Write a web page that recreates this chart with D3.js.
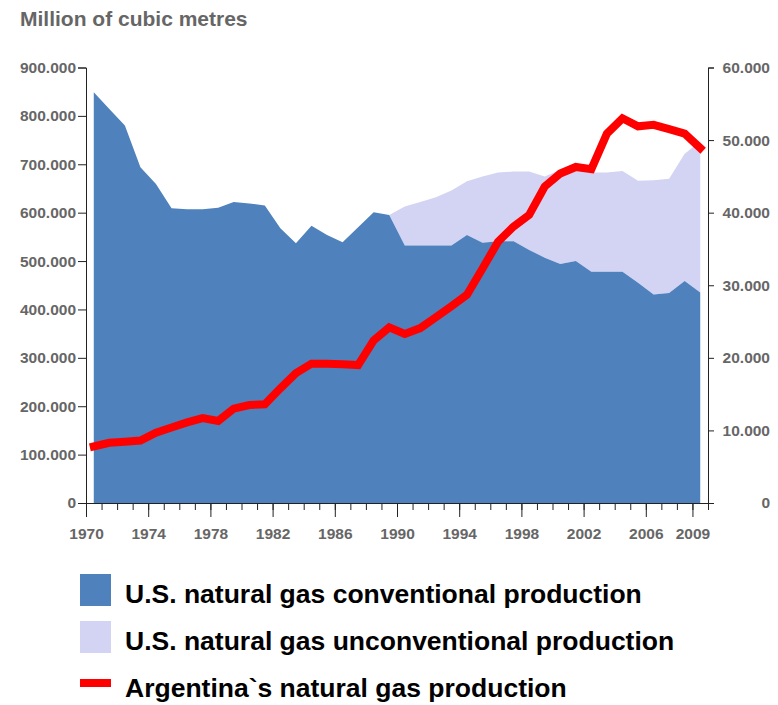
<!DOCTYPE html>
<html>
<head>
<meta charset="utf-8">
<script src="https://cdn.jsdelivr.net/npm/d3@7"></script>
<style>
  body { margin: 0; background: #fff; }
  svg { font-family: "Liberation Sans", Arial, sans-serif; font-weight: bold; }
  .axis path, .axis line { stroke: #222; }
  .axis text { fill: #666; font-size: 15.5px; font-weight: bold; font-family: "Liberation Sans", Arial, sans-serif; }
</style>
</head>
<body>
<div id="chart"></div>
<script>
// data (million m3), one value per year
const years = [1970, 1971, 1972, 1973, 1974, 1975, 1976, 1977, 1978, 1979,
  1980, 1981, 1982, 1983, 1984, 1985, 1986, 1987, 1988, 1989,
  1990, 1991, 1992, 1993, 1994, 1995, 1996, 1997, 1998, 1999,
  2000, 2001, 2002, 2003, 2004, 2005, 2006, 2007, 2008, 2009];

const usConventional = [849000, 814000, 780000, 694000, 659000, 609000, 607000, 607000, 610000, 622000,
  619000, 615000, 568000, 537000, 573000, 554000, 539000, 570000, 601000, 595000,
  532000, 532000, 532000, 532000, 554000, 538000, 541000, 541000, 523000, 507000,
  494000, 500000, 478000, 478000, 478000, 455000, 431000, 434000, 459000, 435000];

const usUnconventional = [0, 0, 0, 0, 0, 0, 0, 0, 0, 0,
  0, 0, 0, 0, 0, 0, 0, 0, 0, 0,
  81000, 90000, 100000, 114000, 111000, 137000, 142000, 144000, 162000, 168000,
  194000, 198000, 205000, 205000, 208000, 211000, 236000, 236000, 263000, 312000];

const argentina = [7800, 8300, 8450, 8600, 9700, 10400, 11100, 11700, 11300, 13000,
  13500, 13600, 15800, 17900, 19200, 19200, 19100, 19000, 22400, 24200,
  23300, 24100, 25600, 27100, 28700, 32300, 36000, 38100, 39700, 43600,
  45400, 46300, 46000, 50900, 53000, 51900, 52100, 51500, 50900, 48900];

const leftTicks = [0, 100000, 200000, 300000, 400000, 500000, 600000, 700000, 800000, 900000];
const rightTicks = [0, 10000, 20000, 30000, 40000, 50000, 60000];
const labelYears = [1970, 1974, 1978, 1982, 1986, 1990, 1994, 1998, 2002, 2006, 2009];
const allTickYears = years.concat([2010]);

const seriesNames = [
  "U.S. natural gas conventional production",
  "U.S. natural gas unconventional production",
  "Argentina`s natural gas production"
];
const colors = ["#4f81bd", "#d3d3f3", "#ff0000"];

const rows = years.map((year, i) => ({
  year: year,
  conv: usConventional[i],
  unconv: usUnconventional[i],
  arg: argentina[i]
}));

const width = 778, height = 705;
const plot = { left: 86, right: 708, top: 67.5, bottom: 503 };

const svg = d3.select("#chart").append("svg")
  .attr("width", width)
  .attr("height", height);

const x = d3.scaleLinear().domain([1970, 2010]).range([plot.left, plot.right]);
const yLeft = d3.scaleLinear().domain([0, 900000]).range([plot.bottom, plot.top]);
const yRight = d3.scaleLinear().domain([0, 60000]).range([plot.bottom, plot.top]);

// values are placed in the middle of each year
const xMid = d => x(d.year + 0.5);

const fmt = d3.formatLocale({ decimal: ",", thousands: ".", grouping: [3], currency: ["", ""] }).format(",");

svg.append("text")
  .attr("x", 20)
  .attr("y", 26)
  .attr("fill", "#666")
  .style("font-size", "21px")
  .text("Million of cubic metres");

// areas
svg.append("path")
  .datum(rows)
  .attr("fill", colors[1])
  .attr("d", d3.area()
    .x(xMid)
    .y0(d => yLeft(d.conv))
    .y1(d => yLeft(d.conv + d.unconv)));

svg.append("path")
  .datum(rows)
  .attr("fill", colors[0])
  .attr("d", d3.area()
    .x(xMid)
    .y0(yLeft(0))
    .y1(d => yLeft(d.conv)));

// Argentina line (right axis)
svg.append("path")
  .datum(rows)
  .attr("fill", "none")
  .attr("stroke", colors[2])
  .attr("stroke-width", 8)
  .attr("stroke-linecap", "square")
  .attr("d", d3.line()
    .x(xMid)
    .y(d => yRight(d.arg)));

// axes
svg.append("g")
  .attr("class", "axis")
  .attr("transform", `translate(${plot.left},0)`)
  .call(d3.axisLeft(yLeft).tickValues(leftTicks).tickSize(8).tickSizeOuter(8).tickPadding(2).tickFormat(fmt));

const right = svg.append("g")
  .attr("class", "axis")
  .attr("transform", `translate(${plot.right},0)`)
  .call(d3.axisRight(yRight).tickValues(rightTicks).tickSize(6).tickSizeOuter(6).tickFormat(fmt));
right.selectAll(".tick text")
  .attr("x", 62)
  .attr("text-anchor", "end");

svg.append("g")
  .attr("class", "axis")
  .attr("transform", `translate(0,${plot.bottom})`)
  .call(d3.axisBottom(x).tickValues(allTickYears).tickSize(7).tickSizeOuter(0).tickFormat(""));

svg.append("g")
  .attr("class", "axis")
  .attr("transform", `translate(0,${plot.bottom})`)
  .call(d3.axisBottom(x).tickValues(labelYears).tickSize(14).tickSizeOuter(0).tickPadding(11).tickFormat(d3.format("d")))
  .call(g => g.select(".domain").remove());

// legend
const legend = svg.append("g").attr("transform", "translate(80,574)");
const item = legend.selectAll("g")
  .data(seriesNames)
  .enter().append("g")
  .attr("transform", (d, i) => `translate(0,${i * 47})`);

item.filter((d, i) => i < 2).append("rect")
  .attr("width", 31)
  .attr("height", 32)
  .attr("fill", (d, i) => colors[i]);

item.filter((d, i) => i === 2).append("rect")
  .attr("y", 11)
  .attr("width", 31)
  .attr("height", 8)
  .attr("fill", colors[2]);

item.append("text")
  .attr("x", 45)
  .attr("y", 20)
  .attr("dy", "0.35em")
  .attr("fill", "#000")
  .style("font-size", "26.5px")
  .text(d => d);
</script>
</body>
</html>
